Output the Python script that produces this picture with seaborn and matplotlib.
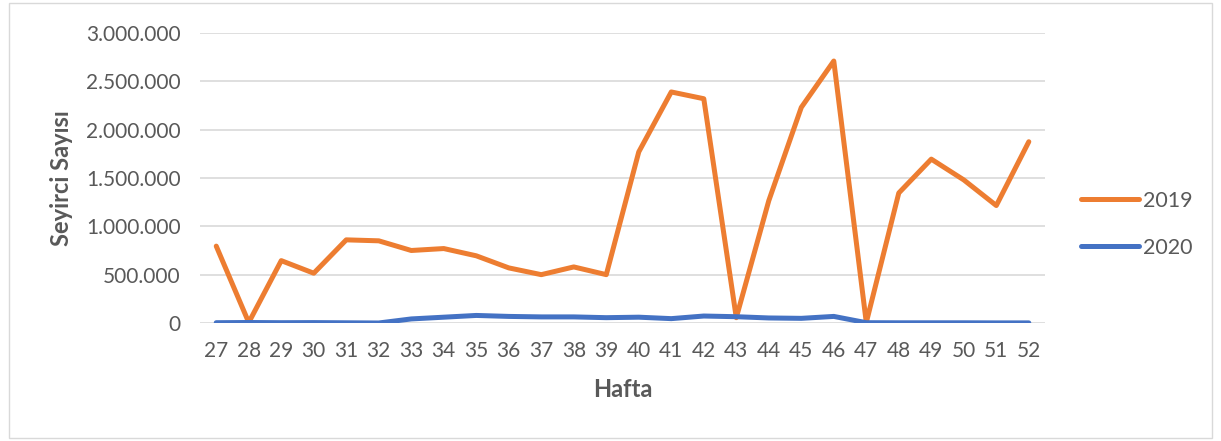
import pandas as pd
import numpy as np
import matplotlib.pyplot as plt
import seaborn as sns
from matplotlib.ticker import FuncFormatter
from matplotlib.patches import Rectangle

# weekly attendance
weeks = list(range(27, 53))
seyirci_2019 = [795000, 5000, 645000, 515000, 860000, 850000, 750000, 770000,
                695000, 570000, 500000, 580000, 500000, 1770000, 2390000, 2320000,
                55000, 1265000, 2230000, 2710000, 5000, 1345000, 1695000, 1480000,
                1215000, 1875000]
seyirci_2020 = [3000, 5000, 3000, 4000, 2000, 0, 42000, 60000,
                78000, 68000, 63000, 63000, 55000, 60000, 45000, 72000,
                65000, 52000, 48000, 68000, 3000, 2000, 2000, 2000,
                1000, 1000]

df = pd.DataFrame({
    'Hafta': weeks * 2,
    'Seyirci': seyirci_2019 + seyirci_2020,
    'Yil': ['2019'] * len(weeks) + ['2020'] * len(weeks),
})

sns.set_style('white')
plt.rcParams['font.family'] = ['Lato', 'DejaVu Sans']
text_col = '#595959'

fig = plt.figure(figsize=(12.21, 4.41), dpi=100)
ax = fig.add_axes([0.1638, 0.2676, 0.6921, 0.6576])

sns.lineplot(data=df, x='Hafta', y='Seyirci', hue='Yil',
             palette={'2019': '#ED7D31', '2020': '#4472C4'},
             linewidth=3.6, ax=ax, solid_capstyle='round', solid_joinstyle='round')

ax.set_xlim(26.5, 52.5)
ax.set_ylim(0, 3000000)
ax.set_xticks(weeks)
ax.set_yticks(np.arange(0, 3000001, 500000))
ax.yaxis.set_major_formatter(FuncFormatter(lambda v, p: f"{int(v):,}".replace(',', '.')))
ax.grid(axis='y', color='#D9D9D9', linewidth=1.2)
ax.set_axisbelow(True)
for s in ax.spines.values():
    s.set_visible(False)
ax.tick_params(axis='both', length=0, labelsize=15, colors=text_col)
ax.tick_params(axis='y', pad=14)
ax.tick_params(axis='x', pad=13)

ax.set_xlabel('Hafta', fontsize=17, fontweight='bold', color=text_col, labelpad=12)
ax.set_ylabel('Seyirci Sayısı', fontsize=17, fontweight='bold', color=text_col, labelpad=9)

ax.legend(loc='center left', bbox_to_anchor=(1.02, 0.34), frameon=False,
          fontsize=15.5, handlelength=2.7, labelspacing=1.25, handletextpad=0.15,
          labelcolor=text_col)

fig.patches.append(Rectangle((0.007, 0.007), 0.986, 0.986, transform=fig.transFigure,
                             fill=False, edgecolor='#D9D9D9', linewidth=1))

plt.savefig('out.png', dpi=100)
plt.close()
